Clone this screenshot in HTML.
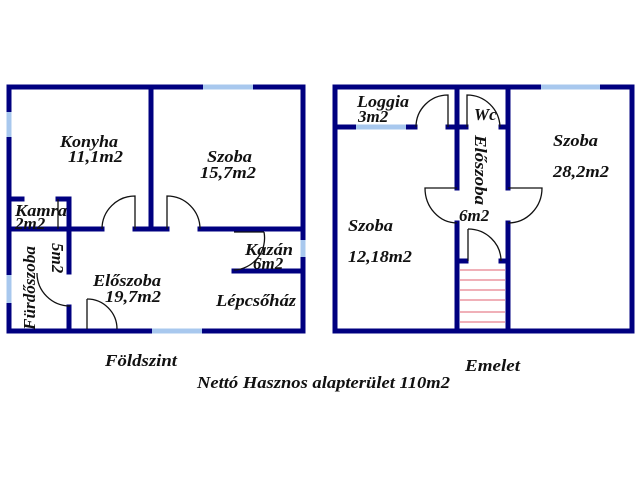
<!DOCTYPE html>
<html><head><meta charset="utf-8"><style>body{margin:0;background:#fff}svg{display:block}text{font-family:"Liberation Serif",serif;font-style:italic;font-weight:bold;font-size:17px;fill:#111}</style></head><body>
<svg width="640" height="480" viewBox="0 0 640 480" xmlns="http://www.w3.org/2000/svg">
<g stroke="#000080" stroke-width="5" fill="none" stroke-linecap="square">
<rect x="9" y="87" width="294" height="244"/>
<line x1="151" y1="87" x2="151" y2="229"/>
<line x1="9" y1="229" x2="102" y2="229"/>
<line x1="135" y1="229" x2="167" y2="229"/>
<line x1="200" y1="229" x2="303" y2="229"/>
<line x1="9" y1="199" x2="22" y2="199"/>
<line x1="58" y1="199" x2="69" y2="199"/>
<line x1="69" y1="199" x2="69" y2="272"/>
<line x1="69" y1="307" x2="69" y2="331"/>
<line x1="234" y1="271" x2="303" y2="271"/>
</g>
<g stroke="#a8c8ee" stroke-width="5">
<line x1="9" y1="112" x2="9" y2="137"/><line x1="9" y1="275" x2="9" y2="303"/>
<line x1="203" y1="87" x2="253" y2="87"/><line x1="303" y1="240" x2="303" y2="257"/>
<line x1="152" y1="331" x2="202" y2="331"/>
</g>
<g stroke="#111" stroke-width="1.3" fill="none">
<path d="M102 229 A33 33 0 0 1 135 196 V229"/>
<path d="M167 229 V196 A33 33 0 0 1 200 229"/>
<path d="M58 199 V229"/>
<path d="M264 232 A32 32 0 0 1 234 270"/><line x1="234" y1="232" x2="264" y2="232"/>
<path d="M37 273 A33 33 0 0 0 70 306"/>
<path d="M87 299 A30 30 0 0 1 117 329"/><line x1="87" y1="299" x2="87" y2="329"/>
</g>
<g stroke="#000080" stroke-width="5" fill="none" stroke-linecap="square">
<rect x="335" y="87" width="297" height="244"/>
<line x1="457" y1="87" x2="457" y2="188"/><line x1="457" y1="223" x2="457" y2="331"/>
<line x1="508" y1="87" x2="508" y2="188"/><line x1="508" y1="223" x2="508" y2="331"/>
<line x1="335" y1="127" x2="415" y2="127"/>
<line x1="448" y1="127" x2="466" y2="127"/><line x1="501" y1="127" x2="508" y2="127"/>
<line x1="457" y1="261" x2="466" y2="261"/><line x1="501" y1="261" x2="508" y2="261"/>
</g>
<g stroke="#a8c8ee" stroke-width="5">
<line x1="356" y1="127" x2="406" y2="127"/><line x1="541" y1="87" x2="600" y2="87"/>
</g>
<g stroke="#111" stroke-width="1.3" fill="none">
<path d="M416 127 A32 32 0 0 1 448 95 V127"/>
<path d="M467 127 V95 A33 33 0 0 1 500 127"/>
<path d="M457 188 H425 A32 35 0 0 0 457 223"/>
<path d="M508 188 H542 A34 35 0 0 1 508 223"/>
<path d="M468 229 A33 32 0 0 1 501 261"/><line x1="468" y1="229" x2="468" y2="261"/>
</g>
<g stroke="#e06070" stroke-width="1">
<line x1="460" y1="270" x2="505" y2="270"/><line x1="460" y1="280" x2="505" y2="280"/>
<line x1="460" y1="290" x2="505" y2="290"/><line x1="460" y1="300" x2="505" y2="300"/>
<line x1="460" y1="312" x2="505" y2="312"/><line x1="460" y1="322" x2="505" y2="322"/>
</g>
<text x="60" y="147" textLength="58" lengthAdjust="spacingAndGlyphs">Konyha</text><text x="68" y="162" textLength="55" lengthAdjust="spacingAndGlyphs">11,1m2</text>
<text x="207" y="162" textLength="45" lengthAdjust="spacingAndGlyphs">Szoba</text><text x="200" y="178" textLength="56" lengthAdjust="spacingAndGlyphs">15,7m2</text>
<text x="15" y="216" textLength="52" lengthAdjust="spacingAndGlyphs">Kamra</text><text x="15" y="229">2m2</text>
<text transform="translate(52,243) rotate(90)">5m2</text>
<text transform="translate(35,330) rotate(-90)" textLength="84" lengthAdjust="spacingAndGlyphs">Fürdőszoba</text>
<text x="93" y="286" textLength="68" lengthAdjust="spacingAndGlyphs">Előszoba</text><text x="105" y="302" textLength="56" lengthAdjust="spacingAndGlyphs">19,7m2</text>
<text x="245" y="255" textLength="48" lengthAdjust="spacingAndGlyphs">Kazán</text><text x="253" y="269">6m2</text>
<text x="216" y="306" textLength="80" lengthAdjust="spacingAndGlyphs">Lépcsőház</text>
<text x="105" y="366" textLength="72" lengthAdjust="spacingAndGlyphs">Földszint</text>
<text x="465" y="371" textLength="55" lengthAdjust="spacingAndGlyphs">Emelet</text>
<text x="197" y="388" textLength="253" lengthAdjust="spacingAndGlyphs">Nettó Hasznos alapterület 110m2</text>
<text x="357" y="107" textLength="52" lengthAdjust="spacingAndGlyphs">Loggia</text><text x="358" y="122">3m2</text>
<text x="474" y="120">Wc</text>
<text transform="translate(475,135) rotate(90)" textLength="70" lengthAdjust="spacingAndGlyphs">Előszoba</text>
<text x="459" y="221">6m2</text>
<text x="348" y="231" textLength="45" lengthAdjust="spacingAndGlyphs">Szoba</text><text x="348" y="262" textLength="64" lengthAdjust="spacingAndGlyphs">12,18m2</text>
<text x="553" y="146" textLength="45" lengthAdjust="spacingAndGlyphs">Szoba</text><text x="553" y="177" textLength="56" lengthAdjust="spacingAndGlyphs">28,2m2</text>
</svg>
</body></html>
